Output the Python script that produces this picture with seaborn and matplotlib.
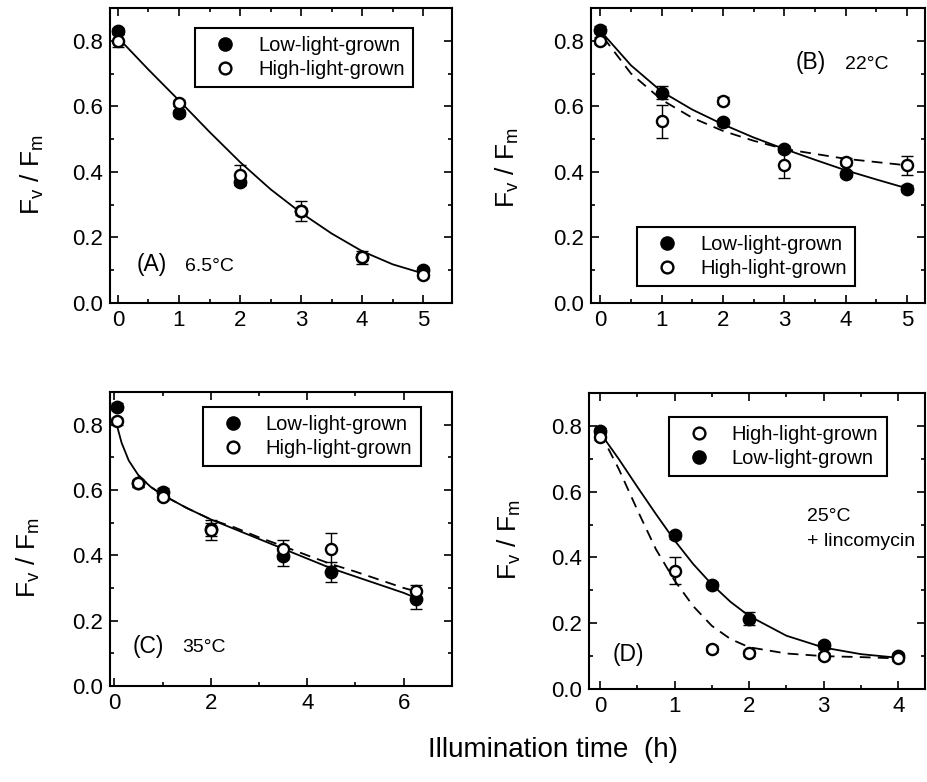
import numpy as np
import pandas as pd
import matplotlib
matplotlib.use("Agg")
import matplotlib.pyplot as plt
import seaborn as sns
from matplotlib.lines import Line2D
from matplotlib.ticker import MultipleLocator, FormatStrFormatter

sns.set_style("ticks")
plt.rcParams['font.family'] = ['Liberation Sans', 'DejaVu Sans']
plt.rcParams['mathtext.fontset'] = 'custom'
plt.rcParams['mathtext.rm'] = 'Liberation Sans'
plt.rcParams['mathtext.it'] = 'Liberation Sans'
plt.rcParams['text.color'] = 'black'
plt.rcParams['axes.labelcolor'] = 'black'
plt.rcParams['xtick.color'] = 'black'
plt.rcParams['ytick.color'] = 'black'

# ---------------- data ----------------
# Panel A (6.5 C)
A_x = [0, 1, 2, 3, 4, 5]
A_low = [0.83, 0.58, 0.37, 0.28, 0.14, 0.10]
A_low_err = [0.01, 0.01, 0.01, 0.01, 0.01, 0.01]
A_high = [0.80, 0.61, 0.39, 0.28, 0.14, 0.085]
A_high_err = [0.02, 0.01, 0.03, 0.03, 0.02, 0.01]
A_fit_x = [0.05, 0.5, 1, 1.5, 2, 2.5, 3, 3.5, 4, 4.5, 5]
A_fit = [0.80, 0.712, 0.618, 0.522, 0.430, 0.347, 0.275, 0.212, 0.158, 0.118, 0.090]

# Panel B (22 C)
B_x = [0, 1, 2, 3, 4, 5]
B_low = [0.834, 0.641, 0.551, 0.47, 0.393, 0.349]
B_low_err = [0.01, 0.02, 0.01, 0.01, 0.01, 0.01]
B_high = [0.80, 0.554, 0.617, 0.42, 0.431, 0.42]
B_high_err = [0.01, 0.05, 0.01, 0.04, 0.01, 0.03]
B_fit_x = [0.05, 0.5, 1, 1.5, 2, 2.5, 3, 3.5, 4, 4.5, 5]
B_fit_low = [0.82, 0.725, 0.645, 0.59, 0.545, 0.505, 0.47, 0.437, 0.405, 0.377, 0.35]
B_fit_high = [0.81, 0.70, 0.62, 0.565, 0.525, 0.495, 0.47, 0.455, 0.44, 0.43, 0.42]

# Panel C (35 C)
C_x = [0.05, 0.5, 1, 2, 3.5, 4.5, 6.25]
C_low = [0.855, 0.62, 0.595, 0.48, 0.398, 0.349, 0.265]
C_low_err = [0.01, 0.01, 0.01, 0.02, 0.03, 0.03, 0.03]
C_high = [0.81, 0.62, 0.58, 0.478, 0.418, 0.418, 0.29]
C_high_err = [0.01, 0.01, 0.01, 0.03, 0.03, 0.05, 0.02]
C_fit_low_x = [0.05, 0.15, 0.3, 0.5, 0.75, 1, 1.5, 2, 2.5, 3, 3.5, 4, 4.5, 5, 5.5, 6, 6.25]
C_fit_low = [0.80, 0.745, 0.69, 0.645, 0.61, 0.585, 0.545, 0.51, 0.48, 0.45, 0.42, 0.39,
             0.36, 0.335, 0.31, 0.285, 0.27]
C_fit_high_x = [0.5, 0.75, 1, 1.5, 2, 2.5, 3, 3.5, 4, 4.5, 5, 5.5, 6, 6.25]
C_fit_high = [0.645, 0.61, 0.585, 0.545, 0.51, 0.485, 0.455, 0.428, 0.40, 0.373, 0.35,
              0.325, 0.30, 0.29]

# Panel D (25 C + lincomycin)
D_x = [0, 1, 1.5, 2, 3, 4]
D_low = [0.785, 0.467, 0.316, 0.214, 0.133, 0.10]
D_low_err = [0.01, 0.01, 0.01, 0.02, 0.01, 0.01]
D_high = [0.767, 0.36, 0.122, 0.11, 0.10, 0.095]
D_high_err = [0.01, 0.04, 0.01, 0.01, 0.01, 0.01]
D_fit_low_x = [0, 0.25, 0.5, 0.75, 1, 1.25, 1.5, 1.75, 2, 2.5, 3, 3.5, 4]
D_fit_low = [0.78, 0.70, 0.615, 0.532, 0.452, 0.38, 0.318, 0.265, 0.222, 0.162, 0.126,
             0.106, 0.095]
D_fit_high_x = [0, 0.25, 0.5, 0.75, 1, 1.25, 1.5, 1.75, 2, 2.5, 3, 3.5, 4]
D_fit_high = [0.78, 0.67, 0.545, 0.425, 0.33, 0.252, 0.192, 0.152, 0.127, 0.108, 0.10,
              0.097, 0.093]

LOW = "Low-light-grown"
HIGH = "High-light-grown"

# ---------------- figure ----------------
fig = plt.figure(figsize=(9.28, 7.82), dpi=100)
axA = fig.add_axes([0.1185, 0.6125, 0.3685, 0.3773])
axB = fig.add_axes([0.637, 0.6125, 0.360, 0.3773])
axC = fig.add_axes([0.1185, 0.1228, 0.3685, 0.3759])
axD = fig.add_axes([0.6347, 0.1189, 0.3623, 0.3785])

MS = 80
DASH = (0, (6, 4))


def style(ax, xlim, xmaj, xmin):
    ax.set_xlim(*xlim)
    ax.set_ylim(0, 0.9)
    ax.xaxis.set_major_locator(MultipleLocator(xmaj))
    ax.xaxis.set_minor_locator(MultipleLocator(xmin))
    ax.yaxis.set_major_locator(MultipleLocator(0.2))
    ax.yaxis.set_minor_locator(MultipleLocator(0.1))
    ax.yaxis.set_major_formatter(FormatStrFormatter('%.1f'))
    ax.tick_params(which='both', direction='in', top=True, right=True,
                   labelsize=16, width=1.2, colors='black', pad=5)
    ax.tick_params(which='major', length=6)
    ax.tick_params(which='minor', length=3)
    for s in ax.spines.values():
        s.set_linewidth(1.5)
        s.set_color('black')
        s.set_visible(True)
    ax.set_xlabel('')
    ax.set_ylabel('')


def points(ax, x, low, low_err, high, high_err):
    ax.errorbar(x, low, yerr=low_err, fmt='none', ecolor='black', elinewidth=1,
                capsize=4, capthick=1, zorder=3)
    ax.errorbar(x, high, yerr=high_err, fmt='none', ecolor='black', elinewidth=1,
                capsize=4, capthick=1, zorder=3)
    sns.scatterplot(x=x, y=low, ax=ax, s=MS, color='black', edgecolor='black',
                    linewidth=1, zorder=4, legend=False)
    sns.scatterplot(x=x, y=high, ax=ax, s=MS * 0.8, color='white', edgecolor='black',
                    linewidth=1.7, zorder=5, legend=False)


def curve(ax, x, y, ls='-'):
    sns.lineplot(x=x, y=y, ax=ax, color='black', linewidth=1.3, linestyle=ls,
                 sort=False, estimator=None, zorder=2)


def legend(ax, anchor, order):
    h_low = Line2D([], [], marker='o', color='black', markerfacecolor='black',
                   markeredgecolor='black', markersize=9.5, linestyle='none', label=LOW)
    h_high = Line2D([], [], marker='o', color='black', markerfacecolor='white',
                    markeredgecolor='black', markeredgewidth=1.7, markersize=8.5,
                    linestyle='none', label=HIGH)
    hs = [h_low, h_high] if order == 'lh' else [h_high, h_low]
    leg = ax.legend(handles=hs, loc='upper left', bbox_to_anchor=anchor,
                    borderaxespad=0, fontsize=14.5, frameon=True, fancybox=False,
                    edgecolor='black', framealpha=1, handletextpad=0.6,
                    borderpad=0.42, labelspacing=0.22, handlelength=2.1)
    leg.get_frame().set_linewidth(1.5)
    leg.set_zorder(10)


# Panel A
curve(axA, A_fit_x, A_fit)
points(axA, A_x, A_low, A_low_err, A_high, A_high_err)
style(axA, (-0.13, 5.47), 1, 0.5)
legend(axA, (0.249, 0.932), 'lh')
axA.text(0.31, 0.116, '(A)', fontsize=16.5, va='center', ha='left')
axA.text(1.10, 0.112, '6.5°C', fontsize=14, va='center', ha='left')

# Panel B
curve(axB, B_fit_x, B_fit_low)
curve(axB, B_fit_x, B_fit_high, DASH)
points(axB, B_x, B_low, B_low_err, B_high, B_high_err)
style(axB, (-0.15, 5.30), 1, 0.5)
legend(axB, (0.138, 0.258), 'lh')
axB.text(3.18, 0.733, '(B)', fontsize=16.5, va='center', ha='left')
axB.text(3.99, 0.728, '22°C', fontsize=14, va='center', ha='left')

# Panel C
curve(axC, C_fit_low_x, C_fit_low)
curve(axC, C_fit_high_x, C_fit_high, DASH)
points(axC, C_x, C_low, C_low_err, C_high, C_high_err)
style(axC, (-0.09, 7.0), 2, 1)
legend(axC, (0.272, 0.949), 'lh')
axC.text(0.37, 0.12, '(C)', fontsize=16.5, va='center', ha='left')
axC.text(1.40, 0.118, '35°C', fontsize=14, va='center', ha='left')

# Panel D
curve(axD, D_fit_low_x, D_fit_low)
curve(axD, D_fit_high_x, D_fit_high, DASH)
points(axD, D_x, D_low, D_low_err, D_high, D_high_err)
style(axD, (-0.147, 4.36), 1, 0.5)
legend(axD, (0.238, 0.919), 'hl')
axD.text(0.17, 0.104, '(D)', fontsize=16.5, va='center', ha='left')
axD.text(2.77, 0.525, '25°C', fontsize=14, va='center', ha='left')
axD.text(2.77, 0.449, '+ lincomycin', fontsize=14, va='center', ha='left')

# y labels
ylab = r'F$_\mathregular{v}$ / F$_\mathregular{m}$'
for (px, py) in [(32, 175), (507, 168), (28, 558), (509, 540)]:
    fig.text(px / 928, 1 - py / 782, ylab, rotation=90, fontsize=19,
             ha='center', va='center')

fig.text(553 / 928, 1 - 750 / 782, 'Illumination time  (h)', fontsize=20,
         ha='center', va='center')

fig.savefig('out.png', dpi=100)
